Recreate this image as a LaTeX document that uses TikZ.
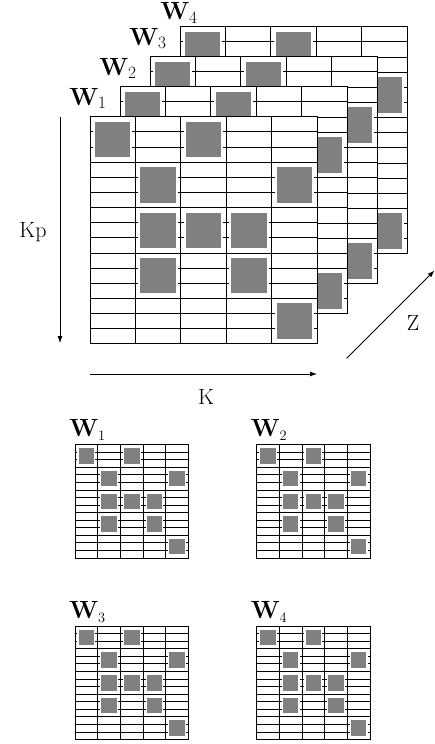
\documentclass[tikz,border=0pt]{standalone}
\usetikzlibrary{arrows.meta}
\DeclareMathSizes{24}{24}{17}{12}
\DeclareMathSizes{23.5}{23.5}{15}{11}
\tikzset{
  gridline/.style={line width=0.75pt, draw=black},
  bigbox/.style={fill=gray, draw=white, line width=2pt},
  smallbox/.style={fill=gray, draw=white, line width=1.2pt},
  lab/.style={font=\fontsize{22}{26}\selectfont, inner sep=0pt, anchor=base},
  wlab/.style={font=\fontsize{24}{28}\selectfont, inner sep=0pt, anchor=base},
  swlab/.style={font=\fontsize{23.5}{28}\selectfont, inner sep=0pt, anchor=base},
  axis/.style={line width=0.8pt, -{Latex[length=7pt,width=5pt]}},
}
% #1 x, #2 y, #3 block size, #4 inset, #5 box style
\newcommand\mylayer[5]{%
  \fill[white] (#1,#2) rectangle ++(5*#3,5*#3);
  \foreach \i in {1,...,14} \draw[gridline] (#1,#2+\i*#3/3) -- ++(5*#3,0);
  \foreach \i in {1,...,4} \draw[gridline] (#1+\i*#3,#2) -- ++(0,5*#3);
  \foreach \r/\c in {0/0,0/2,1/1,1/4,2/1,2/2,2/3,3/1,3/3,4/4}
    \draw[#5] (#1+\c*#3+#4,#2+\r*#3+#4) rectangle (#1+\c*#3+#3-#4,#2+\r*#3+#3-#4);
  \draw[gridline] (#1,#2) rectangle ++(5*#3,5*#3);
}
\begin{document}
\begin{tikzpicture}[x=1pt,y=-1pt]
\useasboundingbox (0,0) rectangle (435,744);
% stacked layers, back to front
\mylayer{180}{26.7}{45.4}{4}{bigbox}
\mylayer{150}{56.7}{45.4}{4}{bigbox}
\mylayer{120}{86.7}{45.4}{4}{bigbox}
\mylayer{90}{116.7}{45.4}{4}{bigbox}
\node[wlab] (lw1) at (88,105) {$\mathbf{W}_1$};
\node[wlab] (lw2) at (118,75) {$\mathbf{W}_2$};
\node[wlab] (lw3) at (148,45) {$\mathbf{W}_3$};
\node[wlab] (lw4) at (179,19.5) {$\mathbf{W}_4$};
% axes
\coordinate (kp0) at (60,117);
\coordinate (kp1) at (60,343);
\draw[axis] (kp0) -- (kp1);
\node[lab, anchor=center] (kp) at (33,232) {Kp};
\coordinate (k0) at (90,374);
\coordinate (k1) at (317,374);
\draw[axis] (k0) -- (k1);
\node[lab, anchor=center] (k) at (206,397) {K};
\coordinate (z0) at (346.7,358.3);
\coordinate (z1) at (434.5,270.5);
\draw[axis] (z0) -- (z1);
\node[lab, anchor=center] (z) at (413,323) {Z};
% small matrices
\mylayer{75}{444.5}{22.7}{3}{smallbox}
\mylayer{256.5}{444.5}{22.7}{3}{smallbox}
\mylayer{75}{626}{22.7}{3}{smallbox}
\mylayer{256.5}{626}{22.7}{3}{smallbox}
\node[swlab] (sw1) at (87.5,436.7) {$\mathbf{W}_1$};
\node[swlab] (sw2) at (269,436.7) {$\mathbf{W}_2$};
\node[swlab] (sw3) at (87.5,618.3) {$\mathbf{W}_3$};
\node[swlab] (sw4) at (269,618.3) {$\mathbf{W}_4$};
\end{tikzpicture}
\end{document}
